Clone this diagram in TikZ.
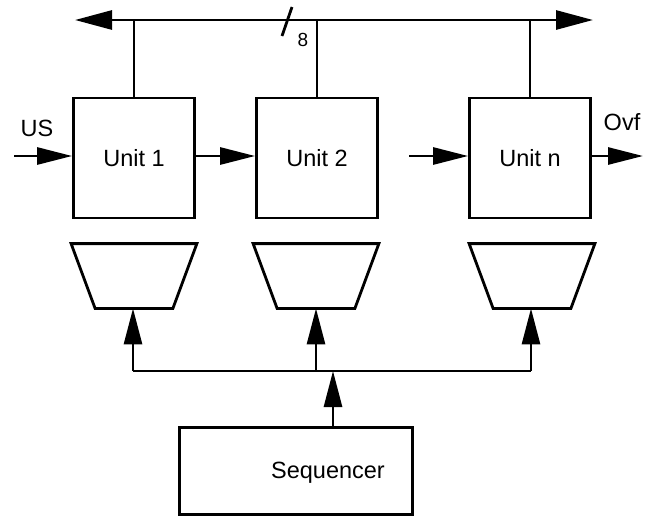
\documentclass[tikz,border=0pt]{standalone}
\usepackage{fontspec}
\setmainfont{Liberation Sans}
\usetikzlibrary{arrows.meta,calc}
\begin{document}
\begin{tikzpicture}[x=1pt,y=-1pt,
  line width=2.8pt,
  lbl/.style={font=\fontsize{23.5}{27}\selectfont},
  unit/.style={draw,minimum width=121pt,minimum height=120pt,inner sep=0pt,lbl},
  muxframe/.style={minimum width=123pt,minimum height=62pt,inner sep=0pt},
  seqbox/.style={draw,minimum width=233pt,minimum height=87pt,inner sep=0pt},
  sig/.style={-{Triangle[length=35pt,width=17pt]}},
  ctl/.style={-{Triangle[length=36pt,width=18pt]}},
  busarrow/.style={{Triangle[length=37pt,width=19pt]}-{Triangle[length=37pt,width=19pt]}}]
\useasboundingbox (0,0) rectangle (662,520);

% processing units
\node[unit] (u1) at (134,158) {Unit 1};
\node[unit] (u2) at (317,158) {Unit 2};
\node[unit] (un) at (530,158) {Unit n};

% multiplexers below the units (trapezoids narrowing downwards)
\foreach \m/\x in {m1/134, m2/316, mn/532} {
  \node[muxframe] (\m) at (\x,276) {};
  \draw[line join=miter] (\m.north west) -- (\m.north east)
    -- ($(\m.south east)+(-24,0)$) -- ($(\m.south west)+(24,0)$) -- cycle;
}

% sequencer, its caption set right of centre
\node[seqbox] (seq) at (296,471) {};
\node[lbl] (seqtxt) at (328,473) {Sequencer};

% 8-bit bus
\coordinate (busL) at (75,20);
\coordinate (busR) at (593,20);
\draw[busarrow] (busL) -- (busR);
\draw (u1.north) -- (u1.north |- busL);
\draw (u2.north) -- (u2.north |- busL);
\draw (un.north) -- (un.north |- busL);
\coordinate (slA) at (282,36);
\coordinate (slB) at (292,7);
\draw (slA) -- (slB);
\node[font=\fontsize{19}{22}\selectfont] (w8) at (303,40) {8};

% serial chain
\coordinate (usin) at (14,156);
\coordinate (nin) at (409,156);
\coordinate (ovf) at (643,156);
\draw[sig] (usin) -- (usin -| u1.west);
\draw[sig] (u1.east |- usin) -- (u2.west |- usin);
\draw[sig] (nin) -- (nin -| un.west);
\draw[sig] (un.east |- ovf) -- (ovf);
\node[lbl] (us) at (37,128) {US};
\node[lbl] (ovfl) at (622,122) {Ovf};

% control distribution
\coordinate (cL) at (133,371);
\coordinate (cR) at (531,371);
\draw (cL) -- (cR);
\draw[ctl] (cL) -- (cL |- m1.south);
\draw[ctl] (m2.south |- cL) -- (m2.south);
\draw[ctl] (cR) -- (cR |- mn.south);
\coordinate (sq) at (333,371);
\draw[ctl] (seq.north -| sq) -- (sq);
\end{tikzpicture}
\end{document}
